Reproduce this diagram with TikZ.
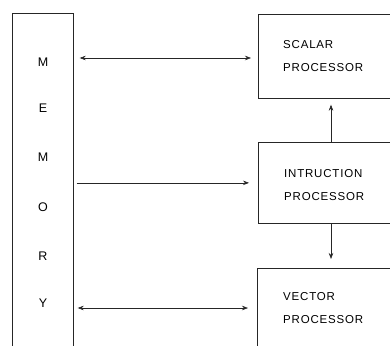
\documentclass[tikz,border=0pt]{standalone}
\usepackage{fontspec}
\setmainfont{Liberation Sans}[LetterSpace=7]
\usetikzlibrary{arrows.meta}
\tikzset{
  unit/.style={draw=black!85, line width=0.7pt, inner sep=0pt, anchor=north west},
  lbl/.style={align=left, anchor=north west, inner sep=0pt, font=\fontsize{11.5}{23}\selectfont, text=black},
  letter/.style={inner sep=0pt, font=\fontsize{12.5}{14}\selectfont, text=black},
  conn/.style={draw=black!85, line width=0.6pt},
  tip/.style={-{Stealth[length=6pt,width=4.5pt]}},
  dtip/.style={{Stealth[length=6pt,width=4.5pt]}-{Stealth[length=6pt,width=4.5pt]}}
}
\begin{document}
\begin{tikzpicture}[x=1pt,y=-1pt]
\useasboundingbox (0,0) rectangle (390,345);
\clip (0,0) rectangle (390,345);
% memory
\node[unit, minimum width=61pt, minimum height=360pt] (mem) at (12,13) {};
\node[letter] (m1) at (43,62) {M};
\node[letter] (m2) at (43,108) {E};
\node[letter] (m3) at (43,157) {M};
\node[letter] (m4) at (43,207) {O};
\node[letter] (m5) at (43,256) {R};
\node[letter] (m6) at (43,303) {Y};
% processors
\node[unit, minimum width=160pt, minimum height=84pt] (sc) at (258,14) {};
\node[unit, minimum width=160pt, minimum height=81pt] (ip) at (258,142) {};
\node[unit, minimum width=160pt, minimum height=100pt] (vp) at (257,268) {};
\node[lbl] (sct) at (283,40) {SCALAR\\PROCESSOR};
\node[lbl] (ipt) at (284,169) {INTRUCTION\\PROCESSOR};
\node[lbl] (vpt) at (283,292) {VECTOR\\PROCESSOR};
% connectors
\coordinate (a1) at ([yshift=-44pt]sc.north west);
\coordinate (a3) at ([yshift=-40pt]vp.north west);
\draw[conn, dtip, shorten <=6pt, shorten >=7pt] (mem.east |- a1) -- (a1);
\draw[conn, tip, shorten <=3pt, shorten >=9pt] (mem.east |- ip.west) -- (ip.west);
\draw[conn, dtip, shorten <=4pt, shorten >=9pt] (mem.east |- a3) -- (a3);
\coordinate (v1) at ([xshift=73pt]ip.north west);
\coordinate (v2) at ([xshift=73pt]ip.south west);
\draw[conn, tip, shorten >=6pt] (v1) -- (v1 |- sc.south);
\draw[conn, tip, shorten >=9pt] (v2) -- (v2 |- vp.north);
\end{tikzpicture}
\end{document}
